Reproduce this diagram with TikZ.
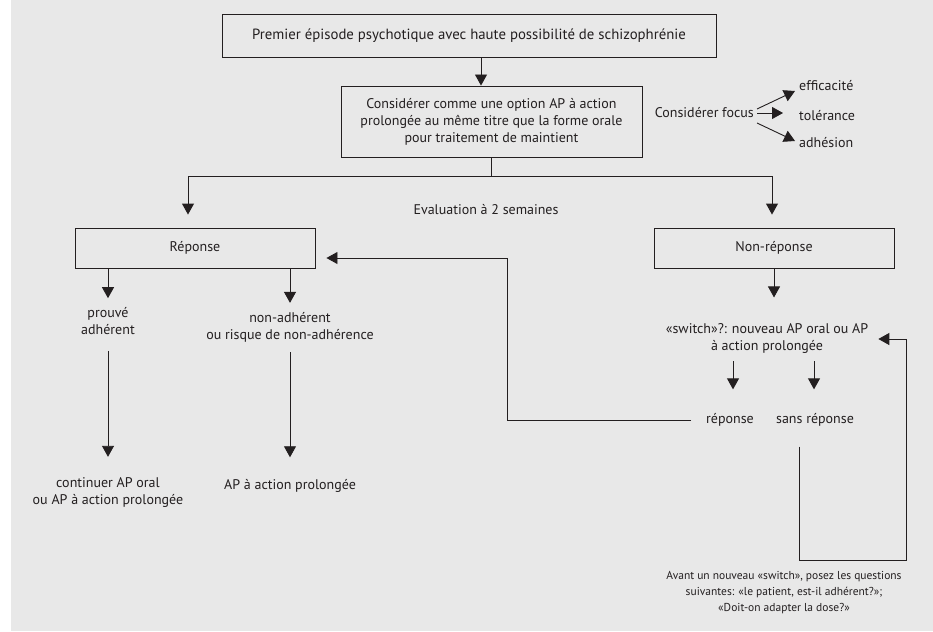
\documentclass[tikz,border=0pt]{standalone}
\usepackage{fontspec}
\setmainfont{PT Sans}
\usetikzlibrary{arrows.meta, positioning}
\definecolor{panel}{RGB}{232,232,232}
\definecolor{ink}{RGB}{35,31,32}
\tikzset{
  flow box/.style={
    rectangle,
    draw=ink,
    line width=0.9pt,
    inner sep=0pt,
    align=center,
    text=ink,
    font=\fontsize{14}{17}\selectfont
  },
  flow label/.style={
    inner sep=0pt,
    align=center,
    text=ink,
    font=\fontsize{14}{17}\selectfont
  },
  note label/.style={
    inner sep=0pt,
    align=center,
    text=ink,
    font=\fontsize{11.5}{16}\selectfont
  },
  flow line/.style={
    draw=ink,
    line width=0.9pt
  },
  flow arrow/.style={
    -{Triangle[length=11pt, width=12pt]},
    draw=ink,
    line width=0.9pt
  }
}

\begin{document}
\begin{tikzpicture}[x=1pt, y=-1pt]

    % fond gris
    \useasboundingbox (0,0) rectangle (933,631);
    \fill[panel] (11,0) rectangle (933,631);

    % boites principales
    \node[flow box, minimum width=494pt, minimum height=43pt, font=\fontsize{14.8}{17}\selectfont] (Premier) at (469,35.5)
      {Premier épisode psychotique avec haute possibilité de schizophrénie};
    \node[flow box, minimum width=301pt, minimum height=71pt] (Option) at (491.5,121.5)
      {Considérer comme une option AP à action\\prolongée au même titre que la forme orale\\pour traitement de maintient};
    \node[flow box, minimum width=240pt, minimum height=40pt] (Reponse) at (195,248) {Réponse};
    \node[flow box, minimum width=240pt, minimum height=40pt] (NonReponse) at (774,248) {Non-réponse};

    \draw[flow arrow] (Premier.south -| 481,0) -- (Option.north -| 481,0);

    % focus a considerer
    \node[flow label, anchor=east] (Focus) at (754,113) {Considérer focus};
    \node[flow label, anchor=west] (Efficacite) at (799,86) {efficacité};
    \node[flow label, anchor=west] (Tolerance) at (799,116) {tolérance};
    \node[flow label, anchor=west] (Adhesion) at (799,143) {adhésion};
    \draw[flow arrow] ([shift={(3pt,4pt)}]Focus.east) -- ([shift={(-4pt,-5pt)}]Efficacite.west);
    \draw[flow arrow, shorten >=16pt] ([xshift=3pt]Focus.east) -- (Tolerance.west |- Focus.east);
    \draw[flow arrow] ([shift={(3pt,-10pt)}]Focus.east) -- ([shift={(-4pt,2pt)}]Adhesion.west);

    % evaluation a 2 semaines
    \coordinate (SplitL) at (188,176);
    \coordinate (SplitR) at (772,176);
    \draw[flow line] (Option.south) -- (Option.south |- SplitL);
    \draw[flow line] (SplitL) -- (SplitR);
    \draw[flow arrow, shorten >=13pt] (SplitL) -- (SplitL |- Reponse.north);
    \draw[flow arrow, shorten >=13pt] (SplitR) -- (SplitR |- NonReponse.north);
    \node[flow label] (Evaluation) at (486,210) {Evaluation à 2 semaines};

    % branche reponse
    \node[flow label] (Prouve) at (108,321) {prouvé\\adhérent};
    \node[flow label] (NonAdherent) at (290,327) {non-adhérent\\ou risque de non-adhérence};
    \node[flow label] (Continuer) at (108,493) {continuer AP oral\\ou AP à action prolongée};
    \node[flow label] (Prolongee) at (290,486) {AP à action prolongée};
    \draw[flow arrow, shorten >=9pt] (Reponse.south -| Prouve) -- (Prouve.north);
    \draw[flow arrow, shorten >=9pt] (Reponse.south -| NonAdherent) -- (NonAdherent.north);
    \draw[flow arrow, shorten <=16pt, shorten >=21pt] (Prouve.south) -- (Continuer.north);
    \draw[flow arrow, shorten <=10pt, shorten >=22pt] (NonAdherent.south) -- (Prolongee.north);

    % branche non-reponse
    \node[flow label] (Switch) at (767,338) {«switch»?: nouveau AP oral ou AP\\à action prolongée};
    \node[flow label] (RepOui) at (730,420) {réponse};
    \node[flow label] (RepNon) at (815,420) {sans réponse};
    \draw[flow arrow, shorten >=9pt] (NonReponse.south) -- ++(0,38);
    \draw[flow arrow, shorten <=8pt, shorten >=24pt] (Switch.south -| 733,0) -- (RepOui.north -| 733,0);
    \draw[flow arrow, shorten <=8pt, shorten >=24pt] (Switch.south -| 814,0) -- (RepNon.north -| 814,0);

    % retours
    \coordinate (LoopL) at (507,258);
    \coordinate (LoopB) at (799,560);
    \coordinate (LoopR) at (906,339);
    \draw[flow arrow, shorten <=15pt, shorten >=11pt] (RepOui.west) -| (LoopL) -- (LoopL -| Reponse.east);
    \draw[flow arrow, shorten <=20pt, shorten >=10pt] (LoopB |- RepNon.south) -- (LoopB) -| (LoopR) -- (LoopR -| Switch.east);

    \node[note label] (Avant) at (784,593)
      {Avant un nouveau «switch», posez les questions\\suivantes: «le patient, est-il adhérent?»;\\«Doit-on adapter la dose?»};

\end{tikzpicture}
\end{document}
